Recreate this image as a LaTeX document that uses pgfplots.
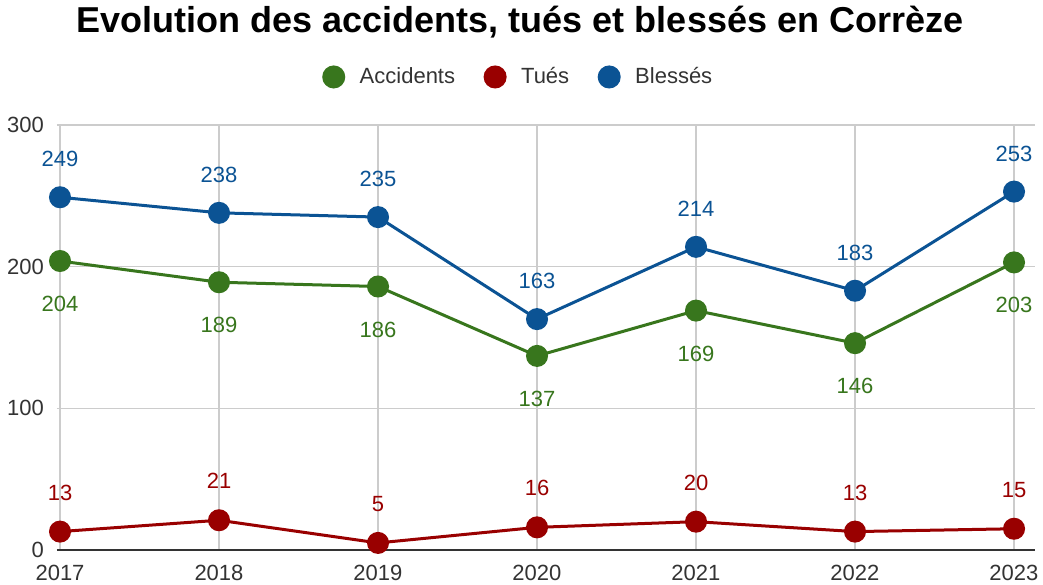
\documentclass[border=0pt]{standalone}
\usepackage{fontspec}
\setmainfont{Liberation Sans}
\usepackage{pgfplots}
\pgfplotsset{compat=1.18}
\definecolor{accgreen}{HTML}{38761D}
\definecolor{tuered}{HTML}{990000}
\definecolor{blessblue}{HTML}{0B5394}
\definecolor{gridgray}{HTML}{CCCCCC}
\definecolor{textgray}{HTML}{333333}

\begin{document}
\begin{tikzpicture}
\useasboundingbox (-28.5pt,-17pt) rectangle (493pt,275pt);
\begin{axis}[
  scale only axis,
  width=489pt, height=212.5pt,
  xmin=2016.981, xmax=2023.132,
  ymin=0, ymax=300,
  xtick={2017,...,2023},
  ytick={0,100,200,300},
  /pgf/number format/1000 sep={},
  /pgf/number format/assume math mode=true,
  major tick length=0pt,
  axis x line*=bottom,
  axis y line*=left,
  x axis line style={draw=textgray, line width=0.9pt},
  y axis line style={draw=none},
  grid=major,
  major grid style={draw=gridgray, line width=0.6pt},
  tick label style={font=\fontsize{11}{13}\selectfont, text=textgray},
  yticklabel style={xshift=-3pt},
  xticklabel style={yshift=-4pt},
  title={Evolution des accidents, tués et blessés en Corrèze},
  title style={at={(0.4734,1.242)}, anchor=center, yshift=-6pt,
    font=\bfseries\fontsize{18}{21}\selectfont},
  legend columns=3,
  legend style={at={(0.4734,1.113)}, anchor=center, draw=none, fill=none,
    font=\fontsize{11}{13}\selectfont, text=textgray,
    /tikz/every odd column/.append style={column sep=6pt},
    /tikz/every even column/.append style={column sep=13pt}},
  legend image code/.code={\draw[#1, mark=*, mark size=5pt] plot coordinates {(0cm,0cm)};},
  every axis plot/.append style={line width=1.5pt, mark=*, mark size=4.75pt},
  nodes near coords,
]
\addplot[color=accgreen, mark options={fill=accgreen},
  every node near coord/.append style={anchor=center, yshift=-21.5pt,
    font=\fontsize{11}{13}\selectfont, text=accgreen}]
  coordinates {(2017,204) (2018,189) (2019,186) (2020,137) (2021,169) (2022,146) (2023,203)};
\addlegendentry{Accidents}
\addplot[color=tuered, mark options={fill=tuered},
  every node near coord/.append style={anchor=center, yshift=19.5pt,
    font=\fontsize{11}{13}\selectfont, text=tuered}]
  coordinates {(2017,13) (2018,21) (2019,5) (2020,16) (2021,20) (2022,13) (2023,15)};
\addlegendentry{Tués}
\addplot[color=blessblue, mark options={fill=blessblue},
  every node near coord/.append style={anchor=center, yshift=19pt,
    font=\fontsize{11}{13}\selectfont, text=blessblue}]
  coordinates {(2017,249) (2018,238) (2019,235) (2020,163) (2021,214) (2022,183) (2023,253)};
\addlegendentry{Blessés}
\end{axis}
\end{tikzpicture}
\end{document}
